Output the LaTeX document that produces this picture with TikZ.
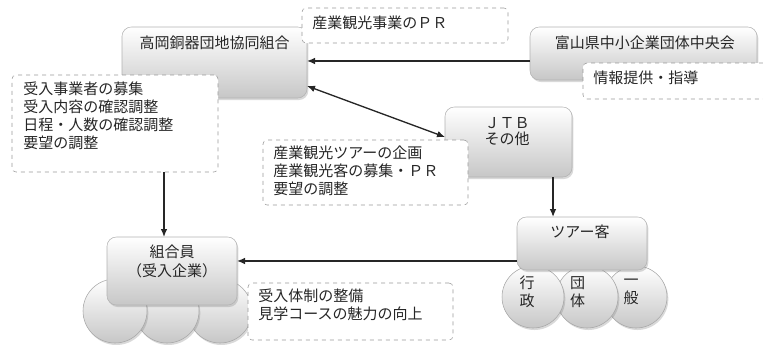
\documentclass[tikz,border=0pt]{standalone}
\usepackage{fontspec}
\setmainfont{Noto Sans CJK JP}
\usetikzlibrary{positioning,shadows,arrows.meta}
\begin{document}
\begin{tikzpicture}[x=0.75pt,y=0.75pt,
        box/.style={draw=black!30, rounded corners=7pt, top color=white, bottom color=black!22, inner sep=0pt, outer sep=0pt,
            drop shadow={opacity=0.3, shadow xshift=1pt, shadow yshift=-1.5pt}},
        ball/.style={circle, draw=black!35, top color=white, bottom color=black!22, inner sep=0pt, outer sep=0pt,
            drop shadow={opacity=0.3, shadow xshift=1pt, shadow yshift=-1.5pt}},
        note/.style={draw=black!40, dashed, fill=white, rounded corners=3pt, inner sep=0pt, outer sep=0pt},
        txt/.style={inner sep=0pt, font=\fontsize{11.25pt}{13.5pt}\selectfont, text=black!85},
        arr/.style={line width=1pt, black!85},
        >={Latex[length=6pt,width=5pt]}]
        \useasboundingbox (0,0) rectangle (763,-344);
        \node[box, minimum width=138.75pt, minimum height=53.25pt] (kumiai) at (214.5,-62.5) {};
        \node[box, minimum width=170.25pt, minimum height=39.75pt] (chuokai) at (643.5,-53.5) {};
        \node[box, minimum width=95.25pt, minimum height=52.5pt] (jtb) at (508.5,-142) {};
        \foreach \x/\n in {636/ippan, 587/dantai, 533/gyosei} {
            \node[ball, minimum size=46.5pt] (\n) at (\x,-297) {};
        }
        \node[box, minimum width=97.5pt, minimum height=39.75pt] (kyaku) at (582,-243.5) {};
        \foreach \x/\n in {220/memC, 167/memB, 115/memA} {
            \node[ball, minimum size=48pt] (\n) at (\x,-311) {};
        }
        \node[box, minimum width=97.5pt, minimum height=51pt] (kumiaiin) at (172,-271) {};

        \node[note, minimum width=154.5pt, minimum height=26.25pt] (pr) at (405,-25.5) {};
        \node[note, minimum width=144pt, minimum height=27pt] (shido) at (679,-81) {};
        \node[note, minimum width=154.5pt, minimum height=72.75pt] (boshu) at (115,-123.5) {};
        \node[note, minimum width=153.75pt, minimum height=48.75pt] (kikaku) at (365.5,-172.5) {};
        \node[note, minimum width=153.75pt, minimum height=42.75pt] (seibi) at (350.5,-311.5) {};

        \node[txt, below=6.4pt of kumiai.north] (kumiai-t) {高岡銅器団地協同組合};
        \node[txt, below=6.4pt of chuokai.north, xshift=1pt] (chuokai-t) {富山県中小企業団体中央会};
        \node[txt, align=center, font=\fontsize{11.25pt}{11.5pt}\selectfont, below=7.9pt of jtb.north, xshift=-1pt] (jtb-t) {ＪＴＢ\\その他};
        \node[txt, below=5.6pt of kyaku.north, xshift=-1.5pt] (kyaku-t) {ツアー客};
        \node[txt, align=center, font=\fontsize{11.25pt}{14.25pt}\selectfont, below=5.6pt of kumiaiin.north] (kumiaiin-t) {組合員\\（受入企業）};
        \foreach \n/\dx/\t in {gyosei/-4.5/{行\\政}, dantai/-7/{団\\体}, ippan/-3.75/{一\\般}} {
            \node[txt, align=center] (\n-t) at ([xshift=\dx pt, yshift=3.75pt]\n.center) {\t};
        }

        \node[txt, below right=5.6pt and 7.5pt of pr.north west] (pr-t) {産業観光事業のＰＲ};
        \node[txt, below right=5.6pt and 7.5pt of shido.north west] (shido-t) {情報提供・指導};
        \node[txt, align=left, below right=4.9pt and 8.25pt of boshu.north west] (boshu-t) {受入事業者の募集\\受入内容の確認調整\\日程・人数の確認調整\\要望の調整};
        \node[txt, align=left, below right=4.1pt and 7.5pt of kikaku.north west] (kikaku-t) {産業観光ツアーの企画\\産業観光客の募集・ＰＲ\\要望の調整};
        \node[txt, align=left, below right=4.1pt and 7.5pt of seibi.north west] (seibi-t) {受入体制の整備\\見学コースの魅力の向上};

        \draw[arr, ->] ([yshift=-5.6pt]chuokai.west) coordinate (a1) -- (a1 -| kumiai.east);
        \draw[arr, <->] ([yshift=-17.6pt]kumiai.east) -- ([yshift=3.75pt]jtb.west);
        \draw[arr, ->] ([xshift=33.4pt]jtb.south) coordinate (a2) -- (a2 |- kyaku.north);
        \draw[arr, ->] ([yshift=-13.1pt]kyaku.west) coordinate (a3) -- (a3 -| kumiaiin.east);
        \draw[arr, ->] ([xshift=36.75pt]boshu.south) coordinate (a4) -- (a4 |- kumiaiin.north);
    \end{tikzpicture}
\end{document}
